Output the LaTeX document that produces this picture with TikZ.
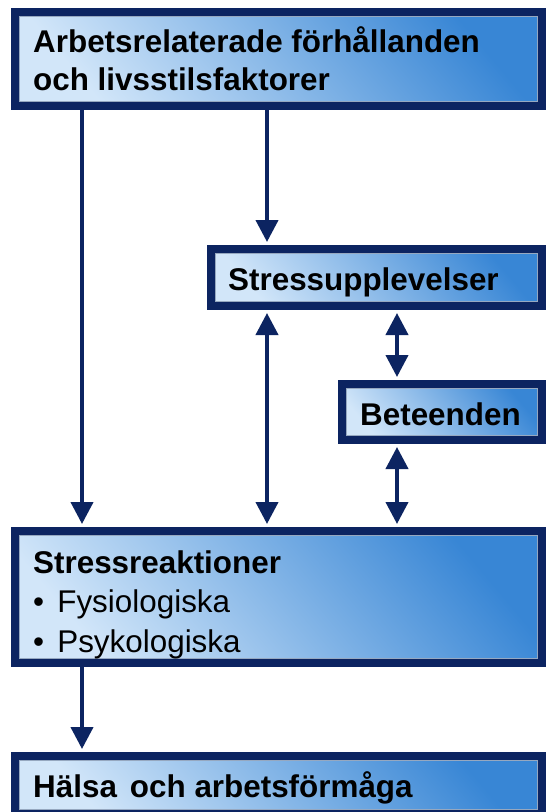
\documentclass[tikz,border=0pt]{standalone}
\usepackage{fontspec}
\setmainfont{Liberation Sans}
\usetikzlibrary{arrows.meta,calc}
\definecolor{navy}{RGB}{12,36,97}
\definecolor{lightb}{RGB}{210,230,249}
\definecolor{darkb}{RGB}{56,134,213}
\definecolor{rimgray}{RGB}{150,168,192}
\begin{document}
\begin{tikzpicture}[x=1pt,y=-1pt,
  box/.style={draw=navy, line width=8pt, rectangle, inner sep=0pt, outer sep=4pt,
    anchor=north west, bottom color=lightb, top color=darkb, shading angle=-50,
    path picture={\draw[rimgray, line width=1pt]
      ([shift={(4.6pt,4.6pt)}]path picture bounding box.south west) rectangle
      ([shift={(-4.6pt,-4.6pt)}]path picture bounding box.north east);}},
  lbl/.style={anchor=base west, inner sep=0pt, align=left,
    font=\fontsize{31.4}{38}\selectfont},
  arr/.style={draw=navy, line width=4pt, shorten >=3pt,
    -{Triangle[width=22pt,length=22pt]}},
  darr/.style={draw=navy, line width=4pt, shorten >=3pt, shorten <=3pt,
    {Triangle[width=22pt,length=22pt]}-{Triangle[width=22pt,length=22pt]}}
]
\clip (0,0) rectangle (547,812);
\fill[white] (0,0) rectangle (547,812);

\node[box, minimum width=527pt, minimum height=94pt] (top) at (11,8) {};
\node[box, minimum width=331pt, minimum height=57pt] (upp) at (207,245) {};
\node[box, minimum width=200pt, minimum height=56pt] (bet) at (338,380) {};
\node[box, minimum width=527pt, minimum height=132pt] (react) at (11,527) {};
\node[box, minimum width=527pt, minimum height=58pt] (halsa) at (11,752) {};

% multi-line nodes: base anchor is at the last line's baseline
\node[lbl] (toptext) at (33,90) {\bfseries Arbetsrelaterade förhållanden\\\bfseries och livsstilsfaktorer};
\node[lbl] (upptext) at (228,290) {\bfseries Stressupplevelser};
\node[lbl] (bettext) at (360,425) {\bfseries Beteenden};
\node[lbl, font=\fontsize{31.4}{39.5}\selectfont] (reacttext) at (33,652)
  {\bfseries Stressreaktioner\\•\hspace{0.42em}Fysiologiska\\•\hspace{0.42em}Psykologiska};
\node[lbl] (halsatext) at (33,797) {\bfseries Hälsa\hspace{13pt}och arbetsförmåga};

\coordinate (xL) at (82,0);
\coordinate (xM) at (267,0);
\coordinate (xR) at (397,0);

\draw[arr] (top.south -| xL) -- (react.north -| xL);
\draw[arr] (top.south -| xM) -- (upp.north -| xM);
\draw[darr] (upp.south -| xM) -- (react.north -| xM);
\draw[darr] (upp.south -| xR) -- (bet.north -| xR);
\draw[darr] (bet.south -| xR) -- (react.north -| xR);
\draw[arr] (react.south -| xL) -- (halsa.north -| xL);
\end{tikzpicture}
\end{document}
